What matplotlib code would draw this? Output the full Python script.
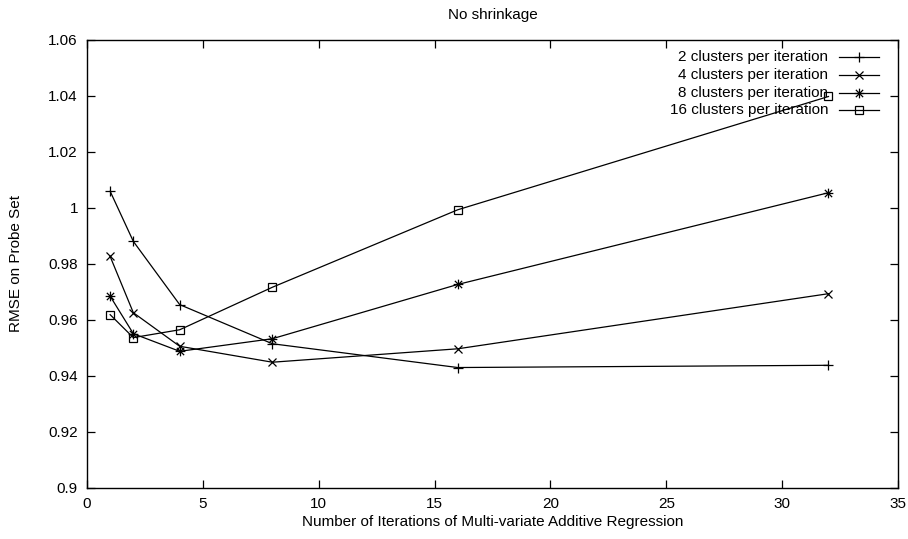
import numpy as np
import matplotlib.pyplot as plt
from matplotlib.path import Path

FS = 11
plt.rcParams["font.family"] = ["Liberation Sans", "DejaVu Sans"]
plt.rcParams["font.size"] = FS

# === Data ===
iterations = [1, 2, 4, 8, 16, 32]
rmse_2 = [1.0059, 0.9880, 0.9654, 0.9514, 0.9429, 0.9437]
rmse_4 = [0.9826, 0.9625, 0.9505, 0.9448, 0.9496, 0.9693]
rmse_8 = [0.9684, 0.9550, 0.9487, 0.9532, 0.9726, 1.0054]
rmse_16 = [0.9618, 0.9536, 0.9564, 0.9716, 0.9993, 1.0398]
labels = ["2 clusters per iteration", "4 clusters per iteration",
          "8 clusters per iteration", "16 clusters per iteration"]

# gnuplot-style star: plus and cross overlaid
star = Path(
    [(-1, 0), (1, 0), (0, -1), (0, 1), (-0.75, -0.75), (0.75, 0.75), (-0.75, 0.75), (0.75, -0.75)],
    [Path.MOVETO, Path.LINETO] * 4,
)
markers = ["+", "x", star, "s"]
sizes = [6.5, 5.5, 7, 5.5]

fig = plt.figure(figsize=(9.08, 5.39), dpi=100)
ax = fig.add_axes([0.0958, 0.0955, 0.8932, 0.8303])

# gnuplot-like key: right-aligned labels, sample line to the right
key_rows = [0.963, 0.922, 0.882, 0.844]
for vals, lab, m, s, ky in zip([rmse_2, rmse_4, rmse_8, rmse_16], labels, markers, sizes, key_rows):
    style = dict(color="black", linewidth=0.9, marker=m, markersize=s,
                 markerfacecolor="none", markeredgecolor="black", markeredgewidth=0.9)
    ax.plot(iterations, vals, **style)
    ax.text(0.9137, ky, lab, transform=ax.transAxes, ha="right", va="center", fontsize=FS)
    ax.plot([0.927, 0.977], [ky, ky], transform=ax.transAxes, clip_on=False,
            color="black", linewidth=0.9)
    ax.plot([0.952], [ky], transform=ax.transAxes, clip_on=False, linestyle="none",
            marker=m, markersize=s, markerfacecolor="none", markeredgecolor="black",
            markeredgewidth=0.9)

ax.set_xlim(0, 35)
ax.set_ylim(0.9, 1.06)
ax.set_xticks(np.arange(0, 36, 5))
ax.set_yticks(np.arange(0.9, 1.0601, 0.02))
ax.set_yticklabels(["0.9", "0.92", "0.94", "0.96", "0.98", "1", "1.02", "1.04", "1.06"])
ax.tick_params(direction="in", length=5.5, width=0.9, top=True, right=True, labelsize=FS, pad=6.5)
for sp in ax.spines.values():
    sp.set_linewidth(1.0)

ax.set_title("No shrinkage", fontsize=FS, pad=15)
ax.set_xlabel("Number of Iterations of Multi-variate Additive Regression", fontsize=FS, labelpad=3.5)
ax.set_ylabel("RMSE on Probe Set", fontsize=FS, labelpad=18)

fig.savefig("out.png", dpi=100)
